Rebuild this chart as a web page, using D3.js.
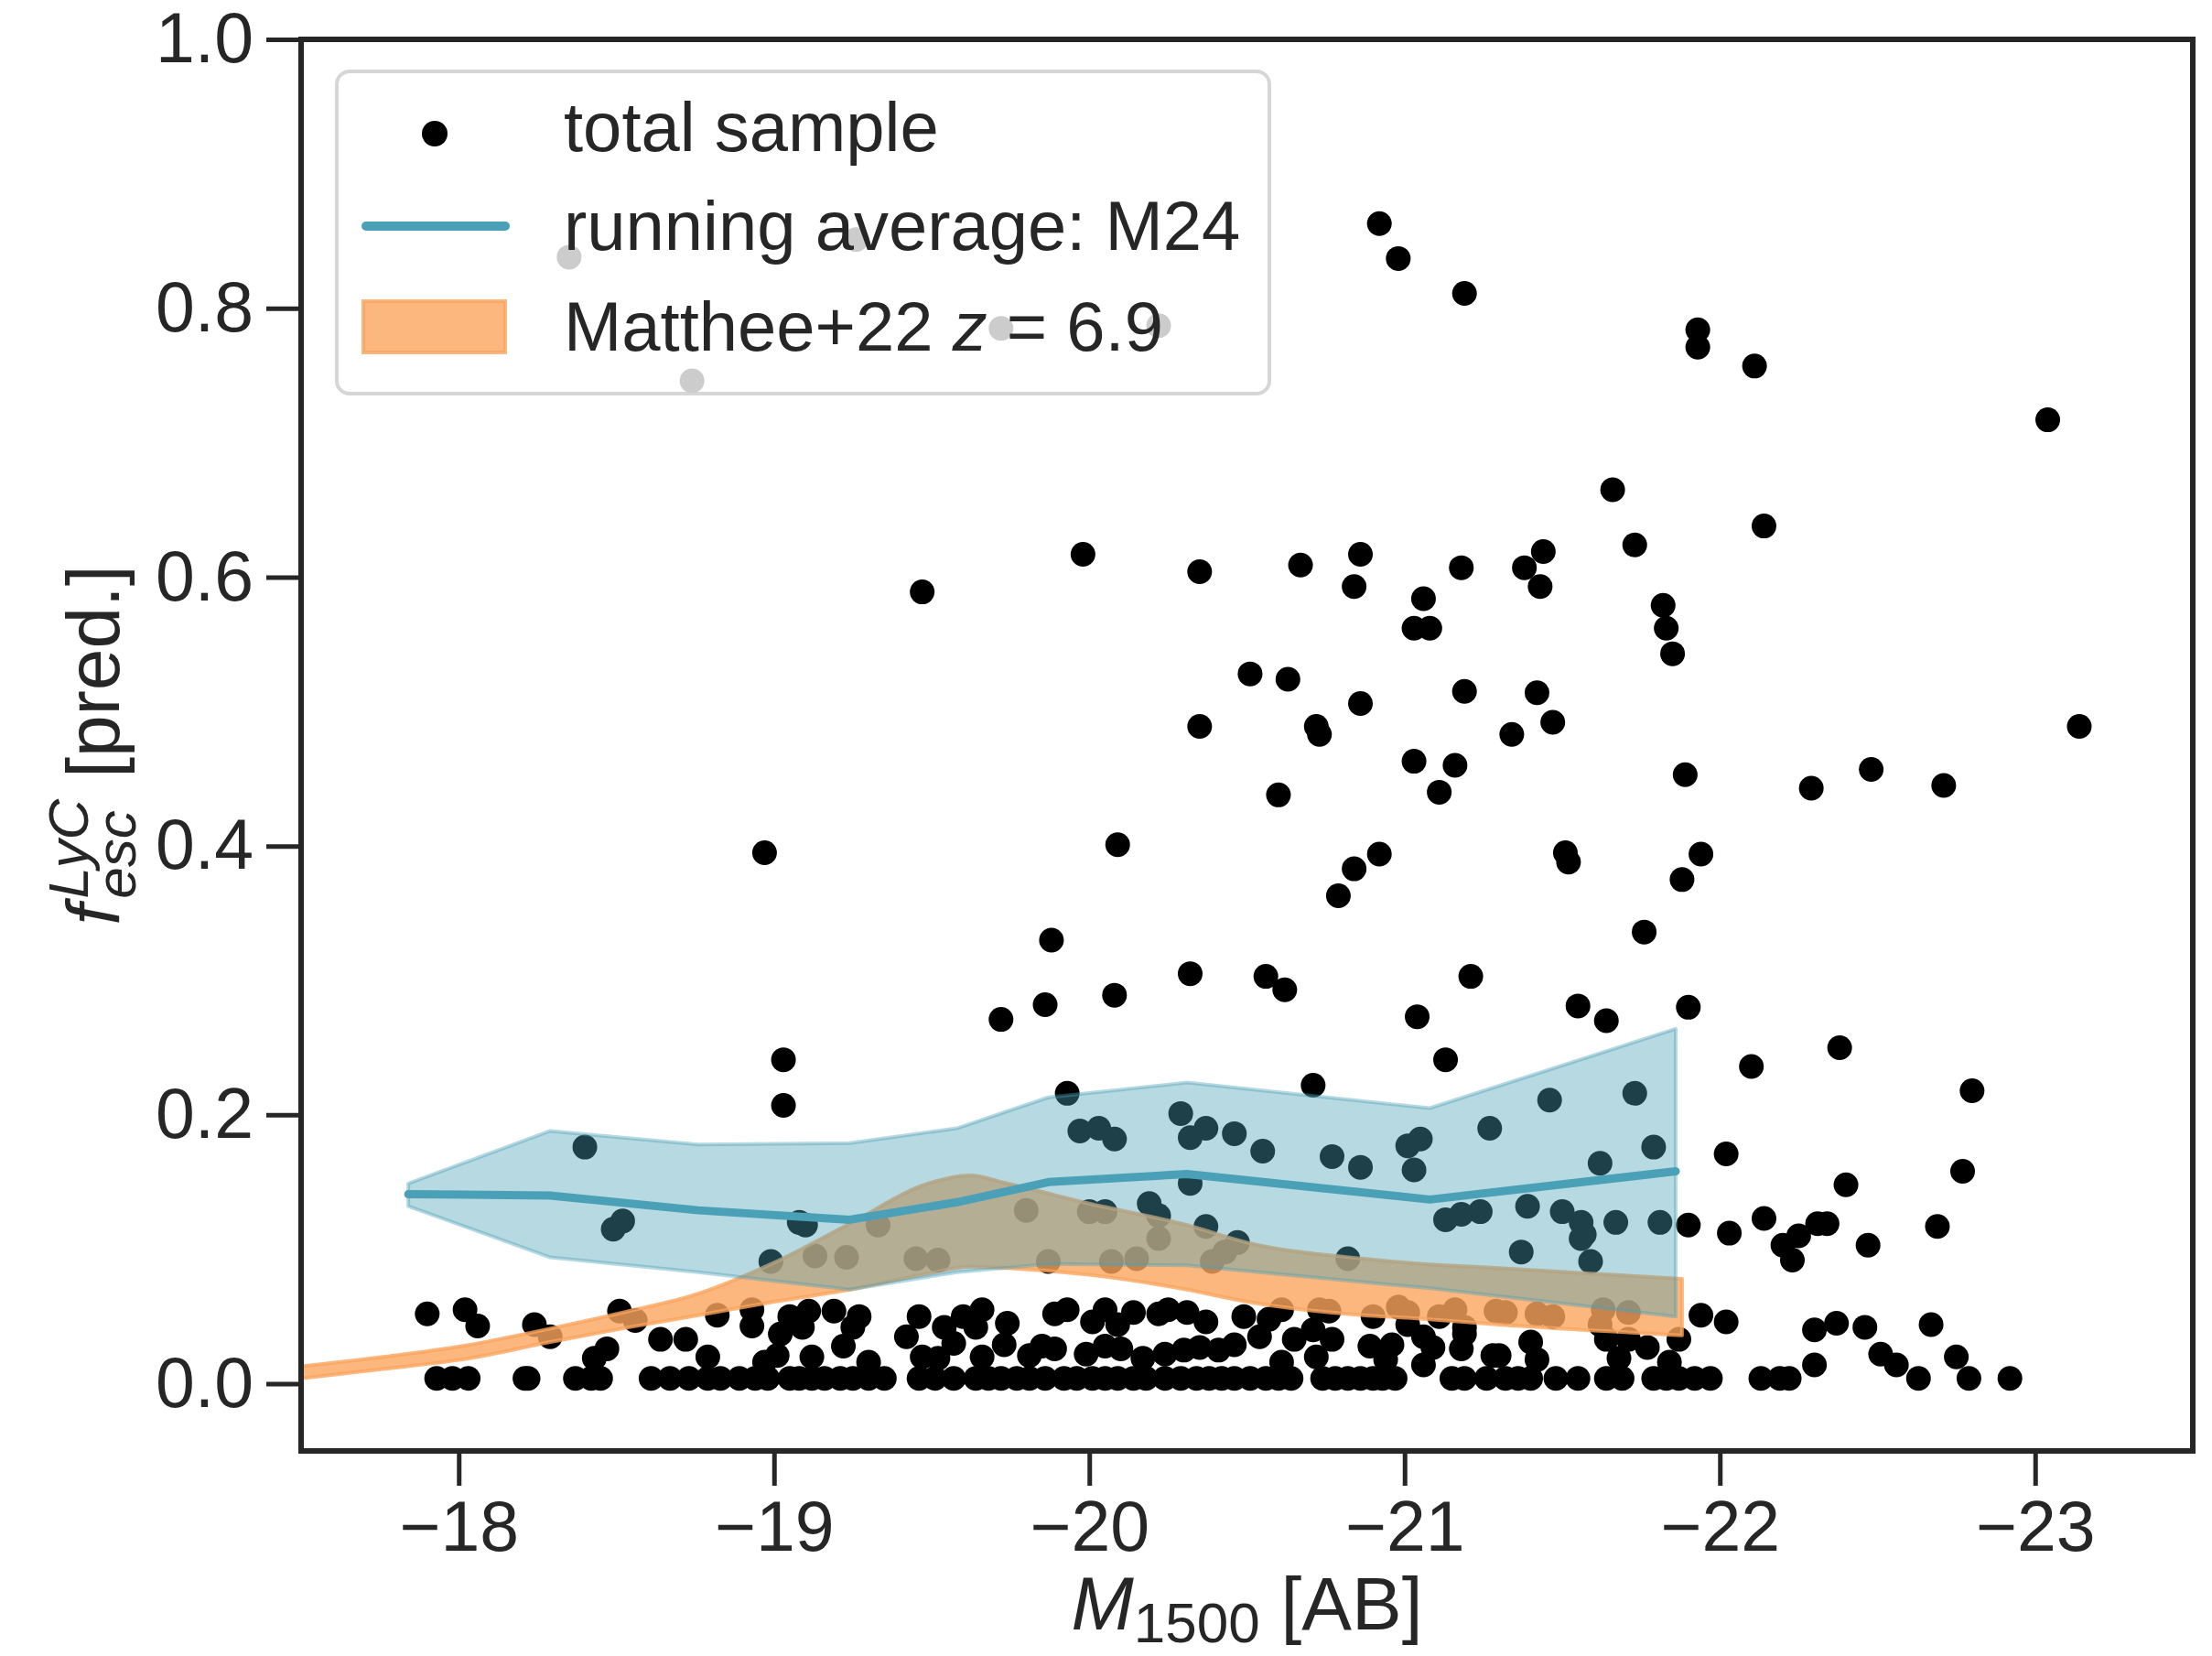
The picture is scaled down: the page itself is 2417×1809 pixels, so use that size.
<!DOCTYPE html>
<html>
<head>
<meta charset="utf-8">
<script src="https://cdn.jsdelivr.net/npm/d3@7"></script>
<style>
  html, body { margin: 0; padding: 0; background: #fff; }
  svg { display: block; }
  text { font-family: "Liberation Sans", Arial, Helvetica, sans-serif; fill: #262626; }
</style>
</head>
<body>
<svg id="chart" width="2417" height="1809"></svg>
<script>
// ---- data ----
const xTicks = [-18, -19, -20, -21, -22, -23];
const yTicks = [0.0, 0.2, 0.4, 0.6, 0.8, 1.0];

// galaxies sitting on the floor (f_esc ~ 0)
const floorM = [-17.93, -17.98, -18.03, -18.21, -18.22, -18.37, -18.42, -18.45, -18.61, -18.67,
  -18.73, -18.79, -18.83, -18.89, -18.94, -18.98, -19.05, -19.08, -19.12, -19.16, -19.21, -19.25,
  -19.30, -19.35, -19.46, -19.51, -19.57, -19.64, -19.68, -19.72, -19.77, -19.81, -19.86, -19.92,
  -19.96, -20.01, -20.05, -20.09, -20.14, -20.18, -20.24, -20.29, -20.34, -20.38, -20.42, -20.46,
  -20.51, -20.56, -20.60, -20.64, -20.74, -20.78, -20.82, -20.86, -20.90, -20.93, -20.97, -21.15,
  -21.19, -21.26, -21.32, -21.36, -21.40, -21.48, -21.55, -21.64, -21.69, -21.79, -21.83, -21.87,
  -21.92, -21.97, -22.13, -22.19, -22.22, -22.63, -22.79, -22.92];
const floorF = 0.004;

// low f_esc galaxies
const lowM = [-17.90, -18.02, -18.06, -18.24, -18.29, -18.51, -18.56, -18.64, -18.47, -18.43,
  -18.82, -18.93, -18.93, -18.72, -18.79, -19.02, -19.05, -19.11, -19.09, -19.19, -19.27, -19.25,
  -19.22, -19.12, -19.01, -18.97, -19.30, -19.46, -19.42, -19.54, -19.47, -19.52,
  -19.60, -19.66, -19.64, -19.74, -19.89, -19.93, -20.01, -20.05, -20.09, -20.14, -20.22, -20.25,
  -20.31, -20.37, -19.73, -19.66, -19.57, -19.85, -19.81, -19.89, -19.99, -20.05, -20.10, -20.17,
  -20.24, -20.30, -20.35, -20.41,
  -20.61, -20.73, -20.76, -20.90, -20.98, -21.01, -21.11, -21.16, -21.19, -21.29, -20.49, -20.57,
  -20.54, -20.46, -20.65, -20.71, -20.77, -20.61, -20.72, -20.89, -20.96, -20.94, -21.01, -21.06,
  -21.09, -21.06, -21.18, -21.19, -21.28,
  -21.32, -21.42, -21.47, -21.63, -21.71, -21.62, -21.87, -21.94, -22.02, -21.40, -21.42, -21.30,
  -21.64, -21.71, -21.77, -21.68, -21.84,
  -22.30, -22.37, -22.46, -22.67, -22.30, -22.51, -22.56, -22.75];
const lowF = [0.052, 0.055, 0.043, 0.044, 0.035, 0.054, 0.047, 0.033, 0.026, 0.019,
  0.051, 0.055, 0.043, 0.033, 0.020, 0.037, 0.050, 0.054, 0.042, 0.054, 0.050, 0.042,
  0.028, 0.020, 0.021, 0.016, 0.016, 0.050, 0.035, 0.042, 0.020, 0.019,
  0.050, 0.055, 0.042, 0.045, 0.052, 0.055, 0.046, 0.055, 0.044, 0.053, 0.052, 0.055,
  0.053, 0.046, 0.029, 0.020, 0.030, 0.028, 0.021, 0.026, 0.022, 0.028, 0.026, 0.019,
  0.022, 0.025, 0.027, 0.025,
  0.055, 0.055, 0.054, 0.050, 0.057, 0.053, 0.050, 0.055, 0.042, 0.054, 0.050, 0.048,
  0.035, 0.029, 0.033, 0.040, 0.033, 0.016, 0.020, 0.028, 0.029, 0.018, 0.044, 0.035,
  0.027, 0.014, 0.026, 0.037, 0.021,
  0.053, 0.052, 0.050, 0.055, 0.053, 0.044, 0.033, 0.051, 0.046, 0.031, 0.018, 0.021,
  0.033, 0.033, 0.027, 0.019, 0.016,
  0.040, 0.045, 0.042, 0.044, 0.014, 0.022, 0.014, 0.020];

// intermediate f_esc galaxies
const midM = [-18.40, -18.52, -18.49, -18.99, -19.13, -19.23, -19.45, -19.52, -19.33, -19.08,
  -19.10, -19.03, -19.03, -19.87, -20.07, -20.15, -20.39, -20.22, -20.82, -20.43, -20.47,
  -21.37, -21.59, -21.56, -19.93, -19.97, -20.03, -20.08, -20.29, -20.32, -20.37, -20.46,
  -20.55, -20.71, -20.77, -20.86, -21.01, -21.05, -21.03, -21.13, -21.27, -21.46, -21.73,
  -21.79, -21.62, -22.02, -20.32, -19.80, -20.00, -20.05, -20.19, -20.22, -20.37,
  -21.13, -21.18, -21.24, -21.39, -21.50, -21.56, -21.57, -21.67, -21.81, -21.90, -22.03,
  -22.14, -22.20, -22.25, -22.23, -22.31, -22.34, -22.47, -22.69, -22.77, -22.40, -22.38,
  -22.80, -22.10];
const midF = [0.176, 0.121, 0.115, 0.091, 0.095, 0.094, 0.093, 0.092, 0.118, 0.120,
  0.118, 0.241, 0.207, 0.091, 0.091, 0.093, 0.091, 0.108, 0.093, 0.098, 0.105,
  0.098, 0.091, 0.108, 0.216, 0.188, 0.190, 0.182, 0.201, 0.183, 0.190, 0.186,
  0.173, 0.222, 0.169, 0.161, 0.177, 0.182, 0.159, 0.241, 0.190, 0.211, 0.216,
  0.176, 0.164, 0.171, 0.149, 0.129, 0.128, 0.128, 0.134, 0.125, 0.117,
  0.122, 0.126, 0.128, 0.132, 0.128, 0.120, 0.111, 0.120, 0.120, 0.118, 0.112,
  0.123, 0.103, 0.110, 0.092, 0.119, 0.119, 0.103, 0.117, 0.158, 0.148, 0.250,
  0.218, 0.236];

// high f_esc galaxies
const highM = [-20.92, -20.98, -21.19, -21.93, -21.93, -22.11, -23.04, -23.14, -21.66, -21.73,
  -22.14, -21.44, -20.86, -19.98, -19.47, -20.35, -20.67, -21.18, -21.38, -21.43, -20.84,
  -21.06, -21.82, -21.03, -21.08, -21.83, -21.85, -20.51, -20.63, -21.19, -21.42, -20.86,
  -20.72, -20.73, -20.35, -21.47, -21.34, -21.03, -21.16, -21.11, -20.60, -21.89, -22.29,
  -22.48, -22.71, -18.97, -20.09, -20.92, -21.51, -21.52, -21.94, -20.84, -20.79, -21.88,
  -21.76, -19.88, -20.32, -20.56, -20.62, -21.21, -20.08, -19.86, -19.72, -21.04, -21.55,
  -21.64, -21.90, -18.35, -19.26, -19.72, -20.22, -18.74];
const highF = [0.863, 0.837, 0.811, 0.784, 0.771, 0.757, 0.717, 0.489, 0.665, 0.624,
  0.638, 0.619, 0.617, 0.617, 0.589, 0.604, 0.609, 0.607, 0.607, 0.593, 0.593,
  0.584, 0.579, 0.562, 0.562, 0.562, 0.543, 0.528, 0.524, 0.515, 0.514, 0.506,
  0.489, 0.483, 0.489, 0.492, 0.483, 0.463, 0.460, 0.440, 0.438, 0.453, 0.443,
  0.457, 0.445, 0.395, 0.401, 0.394, 0.395, 0.388, 0.394, 0.383, 0.363, 0.375,
  0.336, 0.330, 0.305, 0.303, 0.293, 0.303, 0.289, 0.282, 0.271, 0.273, 0.281,
  0.270, 0.280, 0.838, 0.851, 0.785, 0.787, 0.746];

// running average (M24) with its spread
const runM = [-17.84, -18.29, -18.76, -19.24, -19.58, -19.87, -20.31, -21.08, -21.86];
const runMean = [0.141, 0.140, 0.129, 0.122, 0.135, 0.150, 0.156, 0.137, 0.158];
const runHi = [0.149, 0.188, 0.178, 0.179, 0.190, 0.213, 0.224, 0.205, 0.264];
const runLo = [0.132, 0.094, 0.083, 0.070, 0.083, 0.089, 0.088, 0.071, 0.050];

// Matthee+22 z = 6.9 band
const m22M = [-17.5, -17.76, -18.01, -18.29, -18.54, -18.76, -19.0, -19.24, -19.49, -19.62,
  -19.74, -20.0, -20.31, -20.5, -20.87, -21.01, -21.3, -21.88];
const m22Hi = [0.013, 0.020, 0.028, 0.041, 0.054, 0.067, 0.090, 0.119, 0.149, 0.155,
  0.149, 0.134, 0.118, 0.105, 0.093, 0.090, 0.086, 0.078];
const m22Lo = [0.004, 0.011, 0.018, 0.031, 0.042, 0.051, 0.061, 0.070, 0.082, 0.087,
  0.086, 0.081, 0.070, 0.061, 0.051, 0.049, 0.044, 0.036];

// ---- layout ----
const plot = { left: 329, right: 2396, top: 43, bottom: 1585 };
const tickFont = 77;
const labelFont = 82;
const scriptFont = 62;
const legendFont = 76;
const ink = "#262626";
const teal = "rgb(74,161,183)";
const orange = "rgb(250,165,94)";

const svg = d3.select("#chart");

const x = d3.scaleLinear().domain([-17.5, -23.5]).range([plot.left, plot.right]);
const y = d3.scaleLinear().domain([-0.05, 1.0]).range([plot.bottom, plot.top]);

svg.append("defs").append("clipPath").attr("id", "plotclip")
  .append("rect")
  .attr("x", plot.left).attr("y", plot.top)
  .attr("width", plot.right - plot.left).attr("height", plot.bottom - plot.top);

const layer = svg.append("g").attr("clip-path", "url(#plotclip)");

// scatter
const pts = [];
floorM.forEach(m => pts.push([m, floorF]));
lowM.forEach((m, i) => pts.push([m, lowF[i]]));
midM.forEach((m, i) => pts.push([m, midF[i]]));
highM.forEach((m, i) => pts.push([m, highF[i]]));

layer.append("g").selectAll("circle")
  .data(pts)
  .join("circle")
  .attr("cx", d => x(d[0]))
  .attr("cy", d => y(d[1]))
  .attr("r", 13.5)
  .attr("fill", "#000");

// Matthee band
const m22 = m22M.map((m, i) => ({ m, lo: m22Lo[i], hi: m22Hi[i] }));
layer.append("path")
  .datum(m22)
  .attr("d", d3.area().x(d => x(d.m)).y0(d => y(d.lo)).y1(d => y(d.hi)).curve(d3.curveMonotoneX))
  .attr("fill", orange).attr("fill-opacity", 0.8)
  .attr("stroke", orange).attr("stroke-opacity", 0.8)
  .attr("stroke-width", 4).attr("stroke-linejoin", "round");

// running average band + line
const run = runM.map((m, i) => ({ m, mean: runMean[i], lo: runLo[i], hi: runHi[i] }));
layer.append("path")
  .datum(run)
  .attr("d", d3.area().x(d => x(d.m)).y0(d => y(d.lo)).y1(d => y(d.hi)))
  .attr("fill", teal).attr("fill-opacity", 0.4)
  .attr("stroke", teal).attr("stroke-opacity", 0.4)
  .attr("stroke-width", 4).attr("stroke-linejoin", "round");

layer.append("path")
  .datum(run)
  .attr("d", d3.line().x(d => x(d.m)).y(d => y(d.mean)))
  .attr("fill", "none")
  .attr("stroke", teal).attr("stroke-width", 9)
  .attr("stroke-linecap", "round").attr("stroke-linejoin", "round");

// ---- axes ----
const minus = v => (v < 0 ? "\u2212" + Math.abs(v) : String(v));

const xAxis = svg.append("g")
  .attr("transform", `translate(0,${plot.bottom})`)
  .call(d3.axisBottom(x).tickValues(xTicks).tickSize(38).tickPadding(16).tickFormat(minus));

const yAxis = svg.append("g")
  .attr("transform", `translate(${plot.left},0)`)
  .call(d3.axisLeft(y).tickValues(yTicks).tickSize(38).tickPadding(14).tickFormat(d3.format(".1f")));

[xAxis, yAxis].forEach(a => {
  a.select(".domain").remove();
  a.selectAll(".tick line").attr("stroke", ink).attr("stroke-width", 5);
  a.selectAll(".tick text")
    .attr("fill", ink)
    .style("font-size", tickFont + "px")
    .style("font-family", "'Liberation Sans', Arial, sans-serif");
});

// frame
svg.append("rect")
  .attr("x", plot.left).attr("y", plot.top)
  .attr("width", plot.right - plot.left).attr("height", plot.bottom - plot.top)
  .attr("fill", "none").attr("stroke", ink).attr("stroke-width", 6);

// x label: M_1500 [AB]
const xl = svg.append("text")
  .attr("y", 1780)
  .style("font-size", labelFont + "px");
xl.append("tspan").attr("font-style", "italic").text("M");
xl.append("tspan").attr("dy", 14).style("font-size", scriptFont + "px").text("1500");
xl.append("tspan").attr("dy", -14).text("\u00a0[AB]");
const xlw = xl.node().getComputedTextLength();
xl.attr("x", (plot.left + plot.right) / 2 - xlw / 2);

// y label: f_esc^LyC [pred.]
const yl = svg.append("g");
const fT = yl.append("text").style("font-size", labelFont + "px").attr("font-style", "italic").text("f");
const fw = fT.node().getComputedTextLength() + 6;
const supT = yl.append("text").attr("x", fw).attr("y", -34)
  .style("font-size", scriptFont + "px").attr("font-style", "italic").text("LyC");
const subT = yl.append("text").attr("x", fw).attr("y", 18)
  .style("font-size", scriptFont + "px").attr("font-style", "italic").text("esc");
const sw = Math.max(supT.node().getComputedTextLength(), subT.node().getComputedTextLength());
const restT = yl.append("text").attr("x", fw + sw).style("font-size", labelFont + "px").text("\u00a0[pred.]");
const ylw = fw + sw + restT.node().getComputedTextLength();
yl.attr("transform", `translate(130,${(plot.top + plot.bottom) / 2 + ylw / 2}) rotate(-90)`);

// ---- legend ----
const lg = svg.append("g");
lg.append("rect")
  .attr("x", 368).attr("y", 78).attr("width", 1019).attr("height", 352).attr("rx", 14)
  .attr("fill", "#fff").attr("fill-opacity", 0.8)
  .attr("stroke", "rgb(204,204,204)").attr("stroke-opacity", 0.8).attr("stroke-width", 4);

lg.append("circle").attr("cx", 475).attr("cy", 146).attr("r", 14).attr("fill", "#000");
lg.append("text").attr("x", 616).attr("y", 165).style("font-size", legendFont + "px").text("total sample");

lg.append("line").attr("x1", 400).attr("x2", 552).attr("y1", 247).attr("y2", 247)
  .attr("stroke", teal).attr("stroke-width", 10).attr("stroke-linecap", "round");
lg.append("text").attr("x", 616).attr("y", 273).style("font-size", legendFont + "px").text("running average: M24");

lg.append("rect").attr("x", 397).attr("y", 329).attr("width", 155).attr("height", 56)
  .attr("fill", orange).attr("fill-opacity", 0.8)
  .attr("stroke", orange).attr("stroke-opacity", 0.8).attr("stroke-width", 4);
const mt = lg.append("text").attr("x", 616).attr("y", 383).style("font-size", legendFont + "px");
mt.append("tspan").text("Matthee+22\u00a0");
mt.append("tspan").attr("font-style", "italic").text("z");
mt.append("tspan").text("\u00a0=\u00a06.9");
</script>
</body>
</html>
